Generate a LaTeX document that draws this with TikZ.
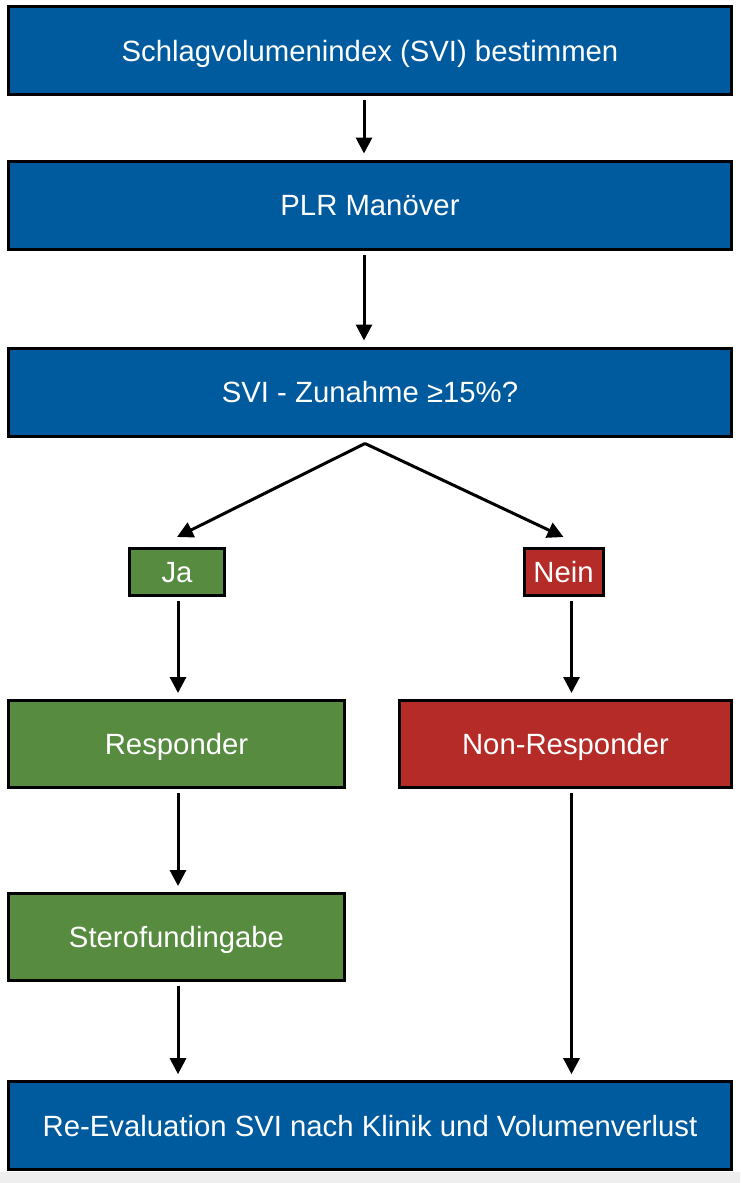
\documentclass[tikz,border=0pt]{standalone}
\usepackage{fontspec}
\setmainfont{Liberation Sans}
\usetikzlibrary{arrows.meta}
\definecolor{sviBlue}{RGB}{0,90,158}
\definecolor{sviGreen}{RGB}{86,139,64}
\definecolor{sviRed}{RGB}{181,43,39}
\definecolor{stripGray}{RGB}{238,238,238}

\begin{document}
\begin{tikzpicture}
[x=1pt,y=-1pt,
  boxDecorate/.style={draw=black,line width=3pt,text=white,inner sep=0pt,%
    text height=21pt,text depth=0pt,font=\fontsize{29.3}{34}\selectfont},%
  arrowDecorate/.style={line width=3pt,-{Triangle[width=16pt,length=16pt]}}]
%% canvas
\useasboundingbox (0,0) rectangle (740,1183);
\fill[stripGray] (0,1172) rectangle (740,1183);
%% boxes
\foreach \nodename/\x/\y/\w/\h/\col/\txt in {
  top/370/50.5/723/88/sviBlue/Schlagvolumenindex (SVI) bestimmen,
  plr/370/205/723/88/sviBlue/PLR Manöver,
  svi/370/392/723/88/sviBlue/SVI - Zunahme ≥15\%?,
  ja/177/572/95/47/sviGreen/Ja,
  nein/563.5/572/79/47/sviRed/Nein,
  resp/176.5/744/336/87/sviGreen/Responder,
  nonresp/565.5/744/332/87/sviRed/Non-Responder,
  sterof/176.5/937/336/87/sviGreen/Sterofundingabe,
  final/370/1125.7/723/88/sviBlue/Re-Evaluation SVI nach Klinik und Volumenverlust}
{
  \node (\nodename) at (\x,\y) [boxDecorate,fill=\col,minimum width=\w pt,minimum height=\h pt] {\txt};
}
%% vertical arrows
\foreach \startnode/\endnode/\dx in {top/plr/-6, plr/svi/-6, ja/resp/1, nein/nonresp/8,
  resp/sterof/1.5, sterof/final/1.5, nonresp/final/6}
{
  \draw[arrowDecorate,shorten <=4pt,shorten >=6pt]
    ([xshift=\dx pt]\startnode.south) -- ([xshift=\dx pt]\startnode.south |- \endnode.north);
}
%% branch arrows
\coordinate (fork) at ([xshift=-5pt,yshift=-6pt]svi.south);
\foreach \endnode in {ja, nein}
{
  \draw[arrowDecorate] (fork) -- ([yshift=10pt]\endnode.north);
}
\end{tikzpicture}
\end{document}
